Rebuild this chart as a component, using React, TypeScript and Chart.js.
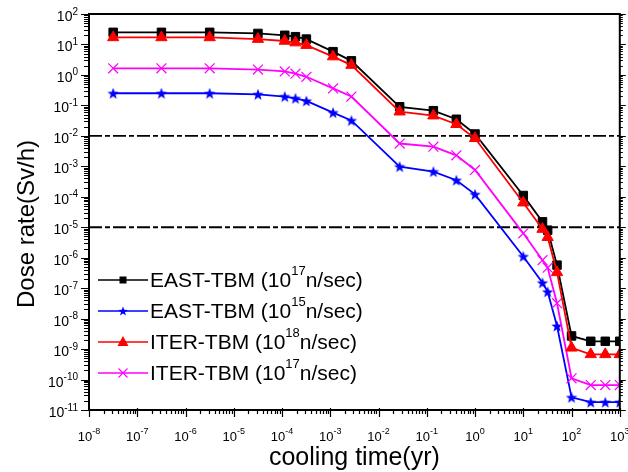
import { useEffect, useRef } from "react";
import { Chart, registerables } from "chart.js";

Chart.register(...registerables);

// ---------- data ----------
const coolingTimes = [
  3.17e-8, 3.17e-7, 3.17e-6, 3.17e-5, 1.14e-4, 1.9e-4, 3.2e-4, 1.14e-3, 2.74e-3,
  2.74e-2, 0.137, 0.41, 1, 10, 25, 32, 50, 100, 250, 500, 1000,
];
const eastTbm17 = [
  25, 25, 25, 23, 20, 18, 15, 5.8, 2.9, 0.09, 0.067, 0.035, 0.0115, 1.1e-4, 1.5e-5,
  8e-6, 5.7e-7, 2.7e-9, 1.8e-9, 1.8e-9, 1.8e-9,
];
const eastTbm15 = [
  0.25, 0.25, 0.25, 0.23, 0.195, 0.17, 0.14, 0.058, 0.032, 9.8e-4, 6.7e-4, 3.5e-4,
  1.2e-4, 1.1e-6, 1.5e-7, 7.6e-8, 5.7e-9, 2.6e-11, 1.8e-11, 1.8e-11, 1.8e-11,
];
const iterTbm18 = [
  17, 17, 17, 15, 13, 11.5, 9.5, 4, 2.1, 0.062, 0.046, 0.024, 0.0083, 6.4e-5, 8.7e-6,
  4.7e-6, 3.3e-7, 1.1e-9, 6.7e-10, 6.7e-10, 6.7e-10,
];
const iterTbm17 = [
  1.65, 1.65, 1.65, 1.5, 1.3, 1.1, 0.87, 0.36, 0.195, 0.0056, 0.0044, 0.0023, 7.6e-4,
  6.3e-6, 8.3e-7, 4.7e-7, 3.2e-8, 1.1e-10, 6.6e-11, 6.6e-11, 6.6e-11,
];
const limitLevels = [1e-2, 1e-5];
const xDecades = [-8, -7, -6, -5, -4, -3, -2, -1, 0, 1, 2, 3];
const yDecades = [-11, -10, -9, -8, -7, -6, -5, -4, -3, -2, -1, 0, 1, 2];
const legendNames = ["EAST-TBM (10", "EAST-TBM (10", "ITER-TBM (10", "ITER-TBM (10"];
const legendExps = ["17", "15", "18", "17"];
const legendTail = "n/sec)";
const xTitle = "cooling time(yr)";
const yTitle = "Dose rate(Sv/h)";

const FONT = '"Liberation Sans", Arial, Helvetica, sans-serif';
const BLACK = "#000000";
const BLUE = "#0000ff";
const RED = "#ff0000";
const MAGENTA = "#ff00ff";

function makeStar(color: string, outer: number, inner: number): HTMLCanvasElement {
  const size = Math.ceil(outer * 2 + 2);
  const c = document.createElement("canvas");
  c.width = size;
  c.height = size;
  const g = c.getContext("2d")!;
  const cx = size / 2;
  const cy = size / 2 + outer * 0.1;
  g.beginPath();
  for (let i = 0; i < 10; i++) {
    const r = i % 2 === 0 ? outer : inner;
    const a = -Math.PI / 2 + (i * Math.PI) / 5;
    const px = cx + r * Math.cos(a);
    const py = cy + r * Math.sin(a);
    if (i === 0) g.moveTo(px, py);
    else g.lineTo(px, py);
  }
  g.closePath();
  g.fillStyle = color;
  g.fill();
  return c;
}

function drawMarker(ctx: CanvasRenderingContext2D, kind: string, x: number, y: number, star?: HTMLCanvasElement) {
  ctx.save();
  if (kind === "rect") {
    ctx.fillStyle = BLACK;
    ctx.fillRect(x - 3.5, y - 3.5, 7, 7);
  } else if (kind === "triangle") {
    ctx.fillStyle = RED;
    ctx.beginPath();
    ctx.moveTo(x, y - 6);
    ctx.lineTo(x + 5.5, y + 4);
    ctx.lineTo(x - 5.5, y + 4);
    ctx.closePath();
    ctx.fill();
  } else if (kind === "star" && star) {
    ctx.drawImage(star, x - star.width / 2, y - star.height / 2);
  } else if (kind === "cross") {
    ctx.strokeStyle = MAGENTA;
    ctx.lineWidth = 1.1;
    ctx.beginPath();
    ctx.moveTo(x - 4.5, y - 4.5);
    ctx.lineTo(x + 4.5, y + 4.5);
    ctx.moveTo(x + 4.5, y - 4.5);
    ctx.lineTo(x - 4.5, y + 4.5);
    ctx.stroke();
  }
  ctx.restore();
}

export default function App() {
  const ref = useRef<HTMLCanvasElement>(null);

  useEffect(() => {
    if (!ref.current) return;
    const starBig = makeStar(BLUE, 6, 2.5);
    const starSmall = makeStar(BLUE, 5, 2.1);

    const pts = (vals: number[]) => coolingTimes.map((t, i) => ({ x: t, y: vals[i] }));

    const series = (label: string, vals: number[], color: string, pointStyle: any, radius: number, pbw = 1) => ({
      label,
      data: pts(vals),
      borderColor: color,
      backgroundColor: color,
      borderWidth: 1.8,
      pointStyle,
      pointRadius: radius,
      pointHoverRadius: radius,
      pointBackgroundColor: color,
      pointBorderColor: color,
      pointBorderWidth: pbw,
      tension: 0,
    });

    const limitSets = limitLevels.map((lv) => ({
      label: "limit " + lv,
      data: [
        { x: 1e-8, y: lv },
        { x: 1e3, y: lv },
      ],
      borderColor: BLACK,
      borderWidth: 1.8,
      borderDash: [13, 3, 5, 3],
      pointRadius: 0,
      tension: 0,
    }));

    const legendItems = [
      { color: BLACK, kind: "rect" },
      { color: BLUE, kind: "star" },
      { color: RED, kind: "triangle" },
      { color: MAGENTA, kind: "cross" },
    ];

    const decor = {
      id: "decor",
      afterDatasetsDraw(chart: any) {
        const { ctx, chartArea: a } = chart;
        const xs = chart.scales.x;
        const ys = chart.scales.y;
        ctx.save();
        ctx.strokeStyle = BLACK;
        // frame
        ctx.lineWidth = 2;
        ctx.strokeRect(a.left, a.top, a.right - a.left, a.bottom - a.top);
        // ticks
        ctx.lineWidth = 1.2;
        ctx.beginPath();
        xDecades.forEach((d) => {
          const px = Math.round(xs.getPixelForValue(Math.pow(10, d))) + 0.5;
          ctx.moveTo(px, a.bottom - 2);
          ctx.lineTo(px, a.bottom + 7);
          if (d < 3) {
            for (let k = 2; k <= 9; k++) {
              const mx = Math.round(xs.getPixelForValue(k * Math.pow(10, d))) + 0.5;
              ctx.moveTo(mx, a.bottom);
              ctx.lineTo(mx, a.bottom + 4);
            }
          }
        });
        yDecades.forEach((d) => {
          const py = Math.round(ys.getPixelForValue(Math.pow(10, d))) + 0.5;
          ctx.moveTo(a.left - 8, py);
          ctx.lineTo(a.left, py);
          ctx.moveTo(a.right, py);
          ctx.lineTo(a.right + 6, py);
          if (d < 2) {
            for (let k = 2; k <= 9; k++) {
              const my = Math.round(ys.getPixelForValue(k * Math.pow(10, d))) + 0.5;
              ctx.moveTo(a.left - 5, my);
              ctx.lineTo(a.left, my);
              ctx.moveTo(a.right, my);
              ctx.lineTo(a.right + 3, my);
            }
          }
        });
        ctx.stroke();
        ctx.restore();
      },
      afterDraw(chart: any) {
        const { ctx, chartArea: a } = chart;
        const xs = chart.scales.x;
        const ys = chart.scales.y;
        ctx.save();
        ctx.fillStyle = BLACK;
        ctx.textBaseline = "alphabetic";
        ctx.textAlign = "left";

        // x tick labels
        xDecades.forEach((d) => {
          const px = xs.getPixelForValue(Math.pow(10, d));
          const exp = String(d);
          ctx.font = `13px ${FONT}`;
          const wb = ctx.measureText("10").width;
          ctx.font = `9px ${FONT}`;
          const we = ctx.measureText(exp).width;
          const start = px - (wb + we) / 2;
          ctx.font = `13px ${FONT}`;
          ctx.fillText("10", start, a.bottom + 31);
          ctx.font = `9px ${FONT}`;
          ctx.fillText(exp, start + wb, a.bottom + 24);
        });

        // y tick labels
        yDecades.forEach((d) => {
          const py = ys.getPixelForValue(Math.pow(10, d));
          const exp = String(d);
          const right = a.left - 11;
          ctx.font = `10px ${FONT}`;
          const we = ctx.measureText(exp).width;
          ctx.fillText(exp, right - we, py + 0.5);
          ctx.font = `14px ${FONT}`;
          const wb = ctx.measureText("10").width;
          ctx.fillText("10", right - we - wb, py + 7);
        });

        // axis titles
        ctx.font = `25px ${FONT}`;
        ctx.textAlign = "center";
        ctx.fillText(xTitle, (a.left + a.right) / 2, 465);
        ctx.font = `24px ${FONT}`;
        ctx.save();
        ctx.translate(34, 224);
        ctx.rotate(-Math.PI / 2);
        ctx.fillText(yTitle, 0, 0);
        ctx.restore();

        // legend
        ctx.textAlign = "left";
        legendItems.forEach((it, i) => {
          const ry = 280 + i * 31;
          ctx.strokeStyle = it.color;
          ctx.lineWidth = 1.6;
          ctx.beginPath();
          ctx.moveTo(98, ry);
          ctx.lineTo(148, ry);
          ctx.stroke();
          drawMarker(ctx, it.kind, 123, ry, starSmall);
          ctx.fillStyle = BLACK;
          let tx = 150;
          ctx.font = `21px ${FONT}`;
          ctx.fillText(legendNames[i], tx, ry + 7);
          tx += ctx.measureText(legendNames[i]).width;
          ctx.font = `13px ${FONT}`;
          ctx.fillText(legendExps[i], tx, ry - 5);
          tx += ctx.measureText(legendExps[i]).width;
          ctx.font = `21px ${FONT}`;
          ctx.fillText(legendTail, tx, ry + 7);
        });
        ctx.restore();
      },
    };

    const chart = new Chart(ref.current, {
      type: "line",
      data: {
        datasets: [
          series("ITER-TBM (10^18n/sec)", iterTbm18, RED, "triangle", 6.5),
          series("ITER-TBM (10^17n/sec)", iterTbm17, MAGENTA, "crossRot", 7, 1.2),
          series("EAST-TBM (10^15n/sec)", eastTbm15, BLUE, starBig, 6),
          series("EAST-TBM (10^17n/sec)", eastTbm17, BLACK, "rect", 6),
          ...limitSets,
        ] as any,
      },
      options: {
        animation: false,
        responsive: false,
        devicePixelRatio: 1,
        layout: { padding: { top: 14, right: 8, left: 0, bottom: 0 } },
        plugins: {
          legend: { display: false },
          tooltip: { enabled: false },
          title: { display: false },
        },
        events: [],
        scales: {
          x: {
            type: "logarithmic",
            min: 1e-8,
            max: 1e3,
            grid: { display: false },
            border: { display: false },
            ticks: { display: false },
            afterFit: (s: any) => {
              s.height = 62;
            },
          },
          y: {
            type: "logarithmic",
            min: 1e-11,
            max: 1e2,
            grid: { display: false },
            border: { display: false },
            ticks: { display: false },
            afterFit: (s: any) => {
              s.width = 89;
            },
          },
        },
      } as any,
      plugins: [decor],
    });

    return () => chart.destroy();
  }, []);

  return (
    <div style={{ position: "absolute", left: 0, top: 0, width: 628, height: 472, background: "#fff" }}>
      <canvas ref={ref} width={628} height={472} style={{ width: 628, height: 472, display: "block" }} />
    </div>
  );
}
